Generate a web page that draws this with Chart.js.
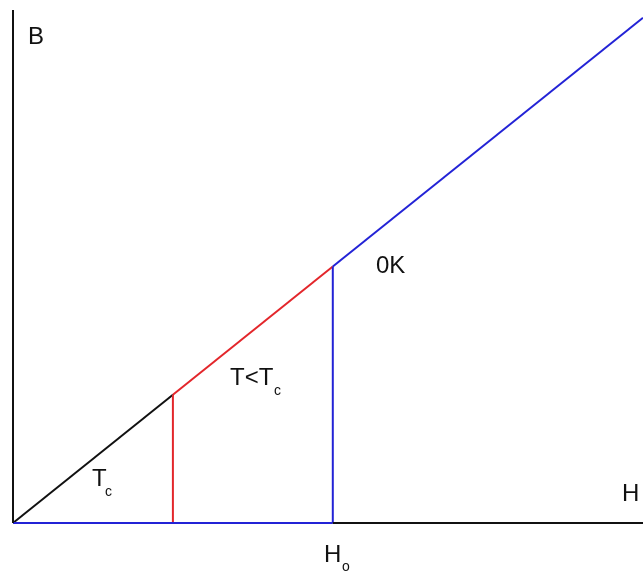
<!DOCTYPE html>
<html>
<head>
<meta charset="utf-8">
<title>B-H</title>
<script src="https://cdn.jsdelivr.net/npm/chart.js@4/dist/chart.umd.min.js"></script>
<style>
  html, body { margin: 0; padding: 0; background: #ffffff; }
  #wrap { width: 643px; height: 571px; }
</style>
</head>
<body>
<div id="wrap"><canvas id="bh-chart" width="643" height="571"></canvas></div>
<script>
// field values (H) where the curve changes: origin, Hc(T), H0, end of plot
const hPoints = [0, 0.5, 1, 1.97];
// induction B along the line B = H
const bPoints = [0, 0.5, 1, 1.97];
const hMax = 1.97;
const bMax = 2.0;

const BLACK = "#111111";
const RED = "#e3262b";
const BLUE = "#2323d6";

function seg(x0, y0, x1, y1) {
  return [{ x: x0, y: y0 }, { x: x1, y: y1 }];
}

function lineSet(points, color, width) {
  return {
    data: points,
    borderColor: color,
    borderWidth: width,
    pointRadius: 0,
    fill: false,
    tension: 0,
    clip: false,
  };
}

const datasets = [
  // axes
  lineSet(seg(0, 0, 0, bMax), BLACK, 2),
  lineSet(seg(hPoints[2], 0, hMax, 0), BLACK, 2),
  lineSet(seg(0, 0, hPoints[2], 0), BLUE, 2),
  // verticals at Hc(T) and H0
  lineSet(seg(hPoints[1], 0, hPoints[1], bPoints[1]), RED, 2),
  lineSet(seg(hPoints[2], 0, hPoints[2], bPoints[2]), BLUE, 2),
  // B = H branches
  lineSet(seg(hPoints[0], bPoints[0], hPoints[1], bPoints[1]), BLACK, 2),
  lineSet(seg(hPoints[1], bPoints[1], hPoints[2], bPoints[2]), RED, 2),
  lineSet(seg(hPoints[2], bPoints[2], hPoints[3], bPoints[3]), BLUE, 2),
];

// text labels: main part and optional subscript, placed in pixels
const labels = [
  { text: "B", x: 28, y: 44 },
  { text: "H", x: 622, y: 501 },
  { text: "H", x: 324, y: 562, sub: "o", sx: 342, sy: 571 },
  { text: "0K", x: 376, y: 273 },
  { text: "T<T", x: 230, y: 385, sub: "c", sx: 274, sy: 395 },
  { text: "T", x: 92, y: 486, sub: "c", sx: 105, sy: 496 },
];

const labelPlugin = {
  id: "labels",
  afterDraw(chart) {
    const ctx = chart.ctx;
    ctx.save();
    ctx.fillStyle = "#111111";
    ctx.textBaseline = "alphabetic";
    ctx.textAlign = "left";
    labels.forEach((l) => {
      ctx.font = "24px 'Liberation Sans', Arial, sans-serif";
      ctx.fillText(l.text, l.x, l.y);
      if (l.sub) {
        ctx.font = "14px 'Liberation Sans', Arial, sans-serif";
        ctx.fillText(l.sub, l.sx, l.sy);
      }
    });
    ctx.restore();
  },
};

new Chart(document.getElementById("bh-chart"), {
  type: "line",
  data: { datasets: datasets },
  options: {
    responsive: false,
    animation: false,
    layout: { padding: { left: 13, top: 10, right: 0, bottom: 48 } },
    plugins: {
      legend: { display: false },
      tooltip: { enabled: false },
    },
    scales: {
      x: { type: "linear", min: 0, max: hMax, display: false },
      y: { type: "linear", min: 0, max: bMax, display: false },
    },
  },
  plugins: [labelPlugin],
});
</script>
</body>
</html>
